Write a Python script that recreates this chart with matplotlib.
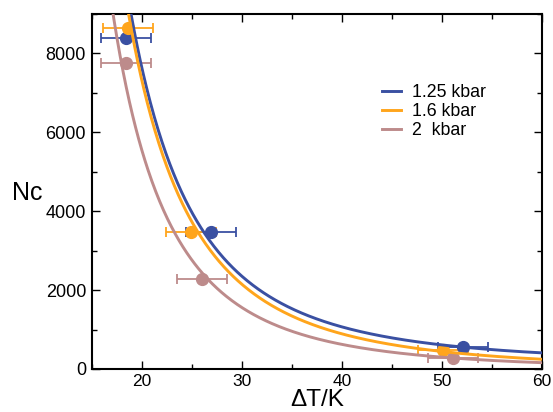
import numpy as np
import matplotlib
matplotlib.use("Agg")
import matplotlib.pyplot as plt
from matplotlib.ticker import MultipleLocator

plt.rcParams['font.family'] = ['Liberation Sans', 'DejaVu Sans']

labels = ["1.25 kbar", "1.6 kbar", "2  kbar"]
colors = ["#3a50a2", "#ffa51c", "#bd8b8b"]

# measured critical nucleus sizes vs supercooling
dT_125 = [18.4, 26.9, 52.1]
nc_125 = [8380, 3480, 570]
dT_16 = [18.6, 24.9, 50.1]
nc_16 = [8650, 3480, 480]
dT_2 = [18.4, 26.0, 51.1]
nc_2 = [7760, 2290, 270]
dT_err = [2.5, 2.5, 2.5]

# fitted curves Nc = A * dT**(-n) + C
fit_amp = [5.99e7, 5.86e7, 6.0e7]
fit_exp = [3.0, 3.0, 3.1]
fit_off = [131.0, -25.0, -25.0]

fig = plt.figure(figsize=(5.53, 4.12), dpi=100)
ax = fig.add_axes([0.1664, 0.1044, 0.8136, 0.8616])

series = [(dT_125, nc_125), (dT_16, nc_16), (dT_2, nc_2)]
x = np.linspace(14, 60.5, 600)
for (dt, nc), c in zip(series, colors):
    ax.errorbar(dt, nc, xerr=dT_err, fmt='o', color=c, ms=8.5, elinewidth=1.3,
                capsize=3.6, capthick=1.3, zorder=2)
for c, lab, A, n, C in zip(colors, labels, fit_amp, fit_exp, fit_off):
    ax.plot(x, A * x ** (-n) + C, color=c, lw=2.1, label=lab, zorder=3)

ax.set_xlim(15, 60)
ax.set_ylim(0, 9000)
ax.xaxis.set_major_locator(MultipleLocator(10))
ax.xaxis.set_minor_locator(MultipleLocator(5))
ax.yaxis.set_major_locator(MultipleLocator(2000))
ax.yaxis.set_minor_locator(MultipleLocator(1000))
ax.tick_params(which='both', direction='in', top=True, right=True,
               labelsize=13, width=1.0, pad=4.3)
ax.tick_params(axis='x', which='both', labelsize=12.5, pad=3.8)
ax.tick_params(which='major', length=5.8)
ax.tick_params(which='minor', length=3.6)
for s in ax.spines.values():
    s.set_linewidth(1.5)

ax.set_xlabel("ΔT/K", fontsize=17.5)
ax.xaxis.set_label_coords(0.5, -0.055)
ax.xaxis.label.set_va('top')
ax.set_ylabel("Nc", fontsize=18, rotation=0, ha='center', va='center')
ax.yaxis.set_label_coords(-0.143, 0.497)

ax.legend(loc='upper left', bbox_to_anchor=(0.644, 0.803), frameon=False,
          fontsize=12.8, handlelength=1.1, handletextpad=0.6,
          labelspacing=0.12, borderaxespad=0, borderpad=0)

fig.savefig("out.png", dpi=100)
